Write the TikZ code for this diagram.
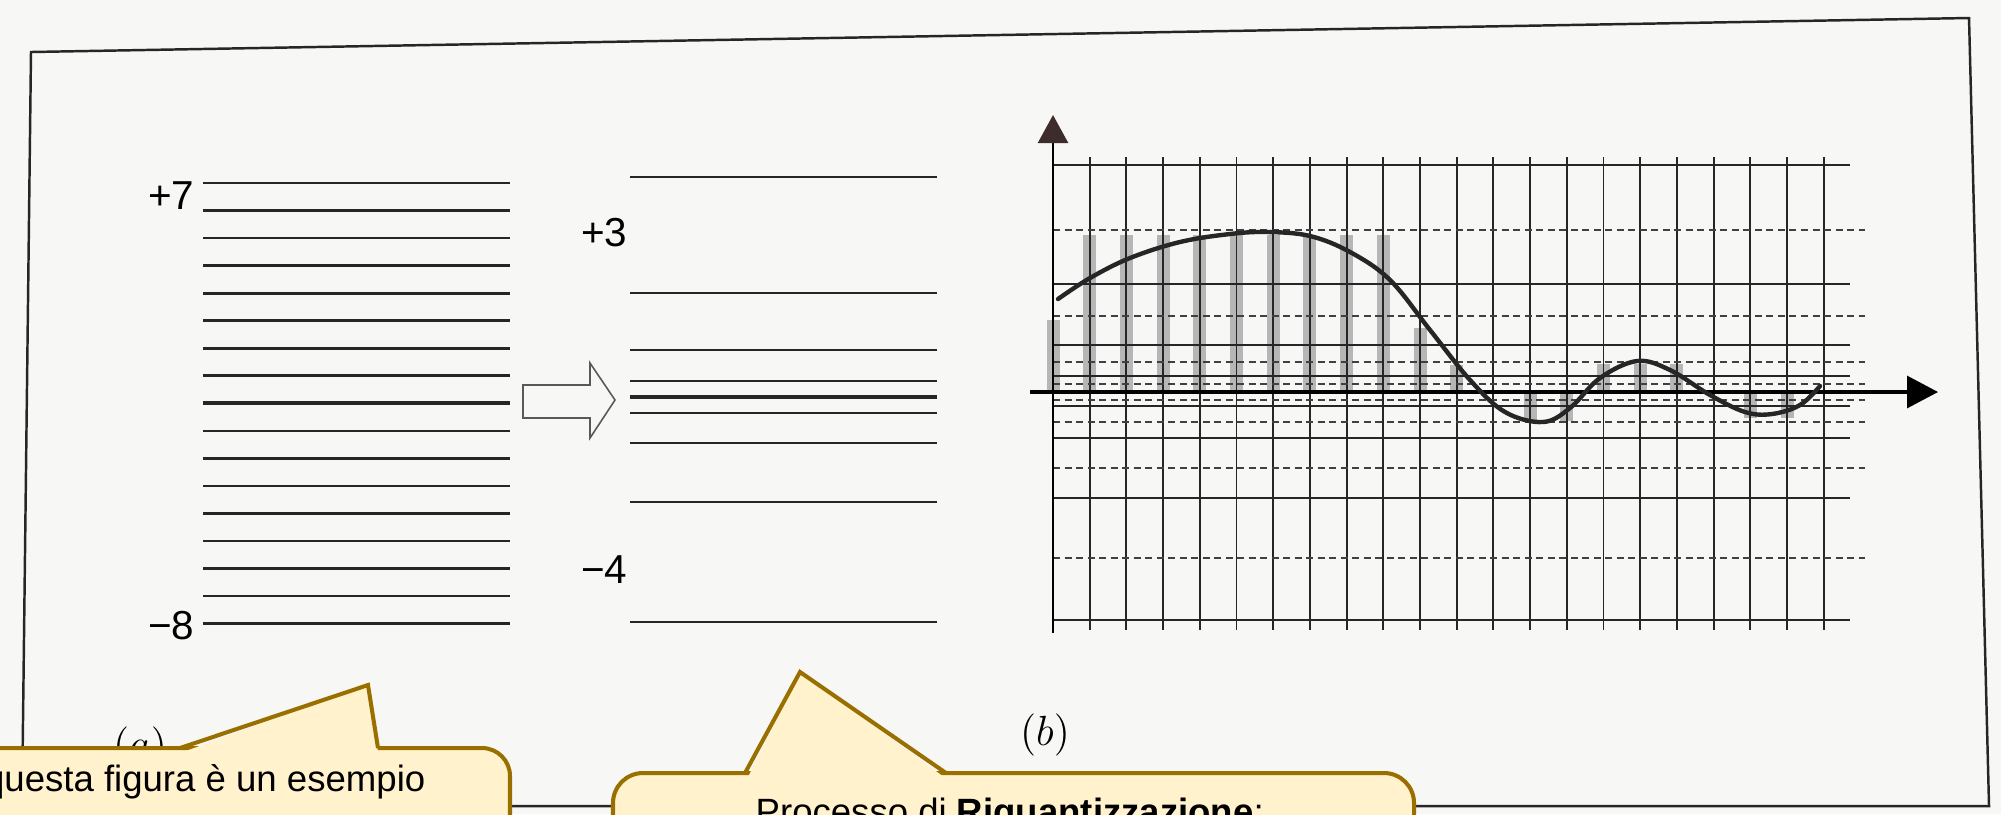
\documentclass[tikz,border=0pt]{standalone}
\usepackage{fontspec}
\newfontfamily\arialfont{Liberation Sans}
\usepackage{tikz}
\usetikzlibrary{arrows.meta}
\usepackage{xcolor}
\definecolor{paper}{RGB}{247,247,246}
\definecolor{noteFill}{RGB}{255,242,204}
\definecolor{noteLine}{RGB}{153,112,0}
\definecolor{barGray}{RGB}{182,182,182}
\definecolor{tipDark}{RGB}{62,44,44}

\tikzset{
  level/.style={line width=0.78pt, black!85},
  quant/.style={line width=0.6pt, black!85},
  gridline/.style={line width=0.55pt, black!85},
  griddash/.style={line width=0.45pt, black!75, dash pattern=on 0.07cm off 0.045cm},
  notebox/.style={fill=noteFill, draw=noteLine, line width=1.15pt},
  numlabel/.style={inner sep=0pt, anchor=east, font=\arialfont\fontsize{11.5}{13}\selectfont},
  notetext/.style={inner sep=0pt, font=\arialfont\fontsize{10.4}{12}\selectfont}
}

\begin{document}
\begin{tikzpicture}[x=0.01cm, y=-0.01cm, line join=miter]
  \useasboundingbox (0,0) rectangle (2001,814);
  \fill[paper] (0,0) rectangle (2001,814);

  % page frame
  \draw[line width=0.7pt, black!85] (31,52) -- (1969,18) -- (1989,806) -- (22,806) -- cycle;

  % (a): uniform levels
  \foreach \k in {0,...,16}
    \draw[level] (203,{183+27.54*\k}) -- (510,{183+27.54*\k});
  \draw[level, line width=1.3pt] (203,403) -- (510,403);
  \node[numlabel] (plusSeven) at (195,196) {+7};
  \node[numlabel] (minusEight) at (195,626) {−8};

  % hollow arrow
  \draw[line width=0.45pt, black!65] (523,385) -- (590,385) -- (590,363) -- (615,400)
    -- (590,438) -- (590,418) -- (523,418) -- cycle;

  % (a): requantized levels
  \foreach \yy in {177,293,350,381,413,443,502,622}
    \draw[quant] (630,\yy) -- (937,\yy);
  \draw[quant, line width=1.05pt] (630,397) -- (937,397);
  \node[numlabel] (plusThree) at (628,233) {+3};
  \node[numlabel] (minusFour) at (628,570) {−4};

  % (b): sample bars
  \def\dx{36.7}
  \foreach \i/\top/\bot in {0/320/392, 1/235/392, 2/235/392, 3/235/392, 4/235/392,
      5/235/392, 6/235/392, 7/235/392, 8/235/392, 9/235/392, 10/328/392, 11/365/392,
      13/392/420, 14/392/421, 15/364/392, 16/364/392, 17/364/392, 19/392/418, 20/392/418}
    \fill[barGray] ({1053+\dx*\i-6.5},\top) rectangle ({1053+\dx*\i+6.5},\bot);

  % (b): grid
  \foreach \i in {1,...,21}
    \draw[gridline] ({1053+\dx*\i},157) -- ({1053+\dx*\i},630);
  \foreach \yy in {165,284,345,376,406,438,498,620}
    \draw[gridline] (1053,\yy) -- (1850,\yy);
  \foreach \yy in {230,316,362,384,400,422,468,558}
    \draw[griddash] (1053,\yy) -- (1865,\yy);

  % axes
  \coordinate (xStart) at (1030,392);
  \coordinate (xEnd) at (1938,392);
  \coordinate (yStart) at (1053,633);
  \coordinate (yEnd) at (1053,115);
  \draw[line width=0.9pt, -{Triangle[length=0.31cm, width=0.32cm]}] (xStart) -- (xEnd);
  \draw[line width=0.7pt, -{Triangle[length=0.28cm, width=0.30cm, color=tipDark]}] (yStart) -- (yEnd);

  % signal
  \draw[line width=1.25pt, black!85, line cap=round] plot[smooth, tension=0.6] coordinates {
    (1058,299) (1090,278) (1130,258) (1180,242) (1230,234) (1268,232) (1310,236)
    (1350,252) (1390,280) (1430,330) (1470,380) (1505,412) (1543,422) (1570,408)
    (1600,378) (1637,361) (1670,370) (1710,395) (1745,412) (1772,414) (1800,405) (1820,386)};

  \node[font=\fontsize{13}{15}\selectfont] (capA) at (140,748) {$(a)$};
  \node[font=\fontsize{13}{15}\selectfont] (capB) at (1045,735) {$(b)$};

  % callouts
  \draw[notebox, rounded corners=0.28cm] (-60,748) rectangle (510,900);
  \fill[noteFill] (183,752) -- (368,685) -- (378,752) -- cycle;
  \draw[noteLine, line width=1.15pt] (180,748) -- (368,685) -- (378,748);
  \node[notetext, anchor=base east] (noteLeft) at (426,791) {questa figura è un esempio};

  \draw[notebox, rounded corners=0.30cm] (613,773) rectangle (1414,900);
  \fill[noteFill] (748,777) -- (800,672) -- (944,777) -- cycle;
  \draw[noteLine, line width=1.15pt] (745,773) -- (800,672) -- (946,773);
  \node[notetext, anchor=base west] (noteMid) at (755,824) {Processo di \textbf{Riquantizzazione};};
\end{tikzpicture}
\end{document}
